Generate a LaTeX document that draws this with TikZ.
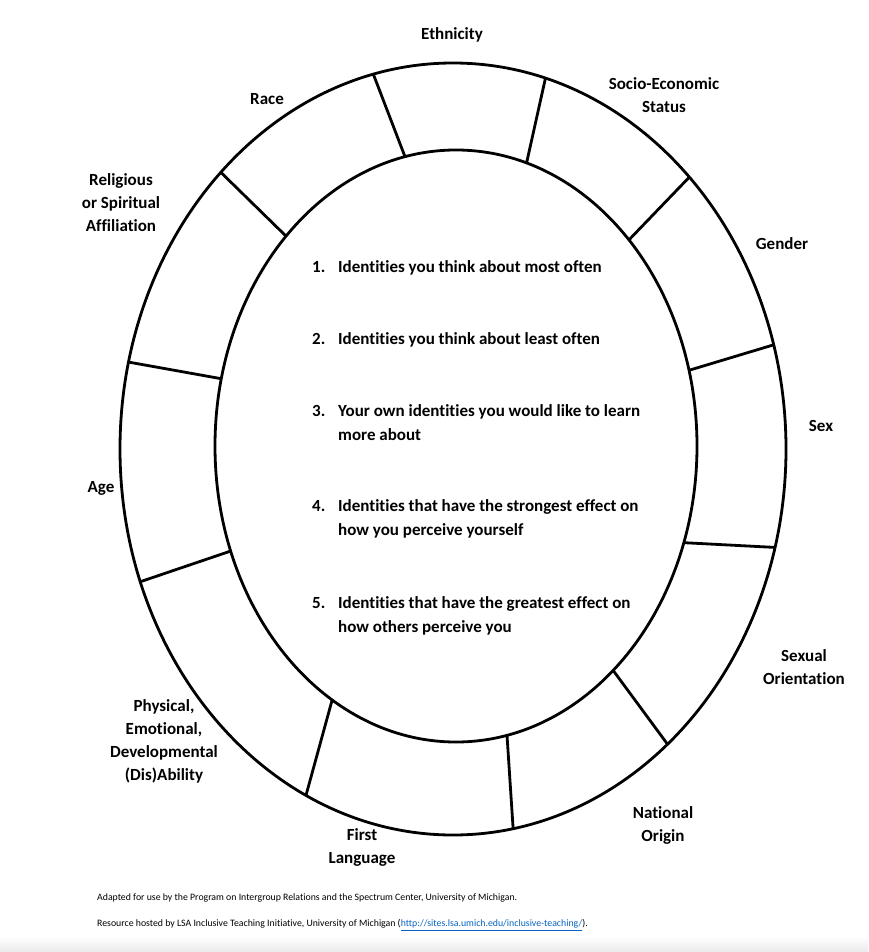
\documentclass[tikz,border=0pt]{standalone}
\usepackage{fontspec}
\setmainfont{Carlito}[Ligatures=NoCommon]
\usepackage{xcolor}
\usetikzlibrary{shapes.geometric}
\definecolor{linkblue}{RGB}{5,99,193}

\begin{document}
\begin{tikzpicture}[x=1pt, y=-1pt,
    ring/.style={ellipse, draw, line width=2.8pt, inner sep=0pt, outer sep=0pt},
    spoke/.style={line width=2.8pt},
    lbl/.style={align=center, font=\fontsize{17}{23}\selectfont\bfseries, inner sep=0pt},
    item/.style={anchor=west, align=left, font=\fontsize{17}{24}\selectfont\bfseries, inner sep=0pt},
    note/.style={anchor=west, font=\fontsize{9.8}{11}\selectfont, inner sep=0pt}]
    \useasboundingbox (0,0) rectangle (868,952);
    \shade[top color=white, bottom color=black!8] (0,936) rectangle (868,952);

    \node[ring, minimum width=666pt, minimum height=772pt] (outer) at (453,449) {};
    \node[ring, minimum width=482pt, minimum height=592pt] (inner) at (456,446) {};

    \draw[spoke] (outer.102.6) -- (inner.100.9);
    \draw[spoke] (outer.76.5) -- (inner.76.5);
    \draw[spoke] (outer.49) -- (inner.50.3);
    \draw[spoke] (outer.18.6) -- (inner.18.1);
    \draw[spoke] (outer.-17.1) -- (inner.-23.9);
    \draw[spoke] (outer.-54.3) -- (inner.-55.7);
    \draw[spoke] (outer.-81.4) -- (inner.-80.9);
    \draw[spoke] (outer.-113.6) -- (inner.-116.4);
    \draw[spoke] (outer.-157.2) -- (inner.-155.7);
    \draw[spoke] (outer.165.9) -- (inner.164.5);
    \draw[spoke] (outer.130.6) -- (inner.129.1);

    \node[lbl] (eth) at (452,35) {Ethnicity};
    \node[lbl] (race) at (267,99) {Race};
    \node[lbl] (ses) at (664,95) {Socio-Economic\\Status};
    \node[lbl] (rel) at (121,203) {Religious\\or Spiritual\\Affiliation};
    \node[lbl] (gen) at (782,244) {Gender};
    \node[lbl] (sex) at (821,426) {Sex};
    \node[lbl] (age) at (101,488) {Age};
    \node[lbl] (sexo) at (804,667) {Sexual\\Orientation};
    \node[lbl] (phys) at (164,741) {Physical,\\Emotional,\\Developmental\\(Dis)Ability};
    \node[lbl] (nat) at (663,825) {National\\Origin};
    \node[lbl] (lang) at (362,847) {First\\Language};

    \node[item] (q1) at (312,268) {\makebox[26pt][l]{1.}Identities you think about most often};
    \node[item] (q2) at (312,340) {\makebox[26pt][l]{2.}Identities you think about least often};
    \node[item] (q3) at (312,423) {\makebox[26pt][l]{3.}Your own identities you would like to learn\\\hspace*{26pt}more about};
    \node[item] (q4) at (312,519) {\makebox[26pt][l]{4.}Identities that have the strongest effect on\\\hspace*{26pt}how you perceive yourself};
    \node[item] (q5) at (312,616) {\makebox[26pt][l]{5.}Identities that have the greatest effect on\\\hspace*{26pt}how others perceive you};

    \node[note] (src) at (97,898) {Adapted for use by the Program on Intergroup Relations and the Spectrum Center, University of Michigan.};
    \node[note] (host) at (97,925) {Resource hosted by LSA Inclusive Teaching Initiative, University of Michigan (\textcolor{linkblue}{\underline{http://sites.lsa.umich.edu/inclusive-teaching/}}).};
\end{tikzpicture}
\end{document}
